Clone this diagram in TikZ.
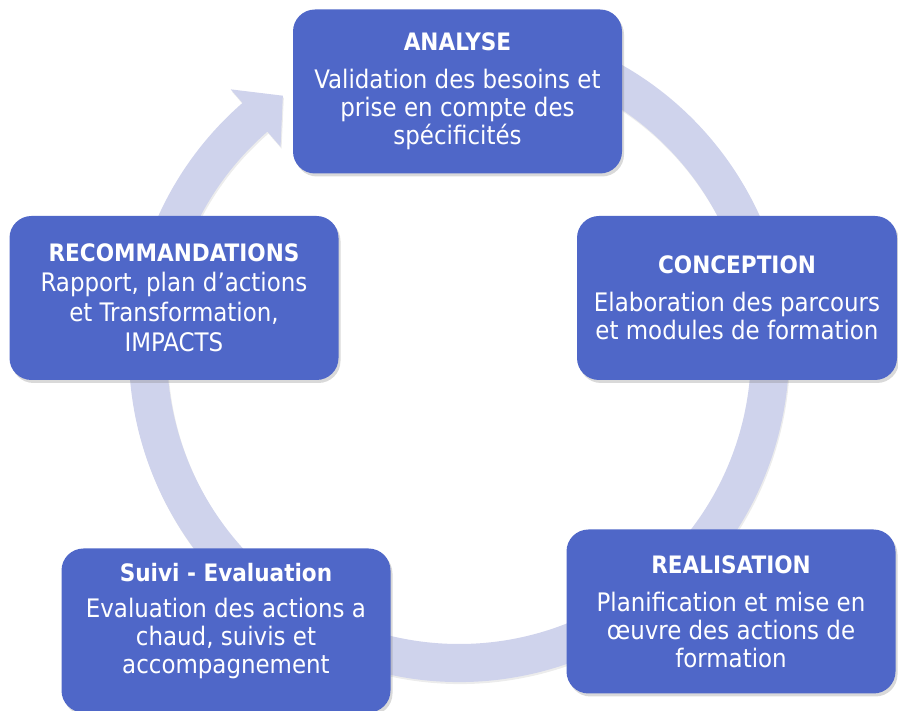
\documentclass[tikz,border=0pt]{standalone}
\usepackage{fontspec}
\setmainfont{DejaVu Sans Condensed}
\usetikzlibrary{shadows}
\definecolor{boxblue}{RGB}{79,103,200}
\definecolor{ringblue}{RGB}{207,211,236}

\begin{document}
\begin{tikzpicture}[x=1pt, y=1pt,
        stage/.style={rectangle, rounded corners=22pt, fill=boxblue, text=white, align=center,
            minimum width=329pt, minimum height=164pt, inner sep=0pt,
            drop shadow={opacity=0.3, shadow xshift=2pt, shadow yshift=-3pt},
            font=\fontsize{25.5}{28}\selectfont},
        ring/.style={fill=ringblue, drop shadow={opacity=0.15, shadow xshift=1pt, shadow yshift=-2pt}}]
        \clip (0,0) rectangle (898,711);
        \coordinate (c) at (459,359);

        % circular arrow behind the boxes
        \path[ring, shift={(c)}] (75:330) arc[start angle=75, end angle=-229, radius=330]
            -- (-229:348) -- (-235.5:311) -- (-229:272) -- (-229:292)
            arc[start angle=-229, end angle=75, radius=292] -- cycle;

        \node[stage] (1) at (457.5,619.5) {{\fontsize{24}{28}\bfseries ANALYSE}\\[10pt]
            Validation des besoins et\\prise en compte des\\spécificités};
        \node[stage, minimum width=320pt] (2) at (737,413) {{\fontsize{24}{28}\bfseries CONCEPTION}\\[10pt]
            Elaboration des parcours\\et modules de formation};
        \node[stage] (3) at (731,99.5) {{\fontsize{24}{28}\bfseries REALISATION}\\[10pt]
            Planification et mise en\\œuvre des actions de\\formation};
        \node[stage] (4) at (226,80.5) {{\fontsize{24}{28}\bfseries Suivi - Evaluation}\\[8pt]
            Evaluation des actions a\\chaud, suivis et\\accompagnement\\[-4pt]\mbox{}};
        \node[stage] (5) at (174,413) {{\fontsize{24}{28}\bfseries RECOMMANDATIONS}\\[2pt]
            Rapport, plan d’actions\\[2pt]et Transformation,\\[2pt]IMPACTS};
    \end{tikzpicture}
\end{document}
